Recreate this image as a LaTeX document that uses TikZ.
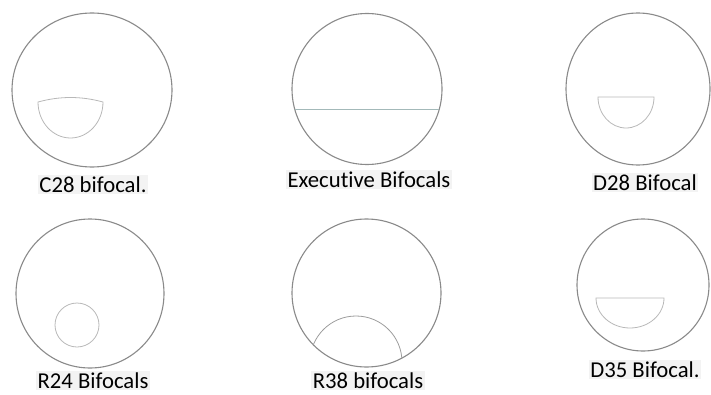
\documentclass[tikz,border=0pt]{standalone}
\usepackage{fontspec}
\setmainfont{Carlito}[Ligatures=CommonOff]
\usetikzlibrary{shapes.geometric}
\definecolor{gristrait}{HTML}{8A8A8A}
\definecolor{grisclair}{HTML}{B8B8B8}
\definecolor{grisbleu}{HTML}{A3B9B9}
\definecolor{fondtexte}{HTML}{F3F3F3}
\begin{document}
\begin{tikzpicture}[x=1pt, y=1pt,
  lentille/.style={ellipse, draw=gristrait, line width=1.1pt, inner sep=0pt},
  segment/.style={draw=grisclair, line width=0.8pt},
  etiquette/.style={fill=fondtexte, anchor=base, inner sep=1.5pt, font=\fontsize{22.7}{27}\selectfont}]

\useasboundingbox (0,0) rectangle (711,394);

% Les verres
\foreach \nom/\x/\y/\w/\h in {C/92/304/160/154, E/367/305/150/151, D/638/305/144/152, R/90/100.5/148/149, S/366.5/101/149/148, T/643/109/132/132}
\node[lentille, minimum width=\w pt, minimum height=\h pt] (V\nom) at (\x,\y) {};

% Les étiquettes
\foreach \nom/\x/\y/\texte in {C/93/202/C28 bifocal., E/369/207/Executive Bifocals, D/645/204/D28 Bifocal, R/93/6/R24 Bifocals, S/368/6/R38 bifocals, T/645/17/D35 Bifocal.}
\node[etiquette] (L\nom) at (\x,\y) {\texte};

% Les segments de près
\draw[segment] (38,292) .. controls (60,298) and (81,298) .. (103,292)
  arc[start angle=0, end angle=-180, x radius=32.5, y radius=36] -- cycle;

\path (VE.center) ++(195.5:75) coordinate (EG);
\path (VE.center) ++(-15.5:75) coordinate (ED);
\draw[segment, draw=grisbleu, line width=1pt] (EG) -- (ED);

\draw[segment] (598,297) -- (654,297)
  arc[start angle=0, end angle=-180, x radius=28, y radius=31] -- cycle;

\node[circle, segment, minimum size=44pt, inner sep=0pt] (PR) at (77,69) {};

\begin{scope}
\clip (VS.center) circle[radius=74];
\draw[segment, draw=gristrait!85] (356,32) circle[radius=46];
\end{scope}

\draw[segment] (596,96) -- (664,96)
  arc[start angle=0, end angle=-180, x radius=34, y radius=30] -- cycle;

\end{tikzpicture}
\end{document}
